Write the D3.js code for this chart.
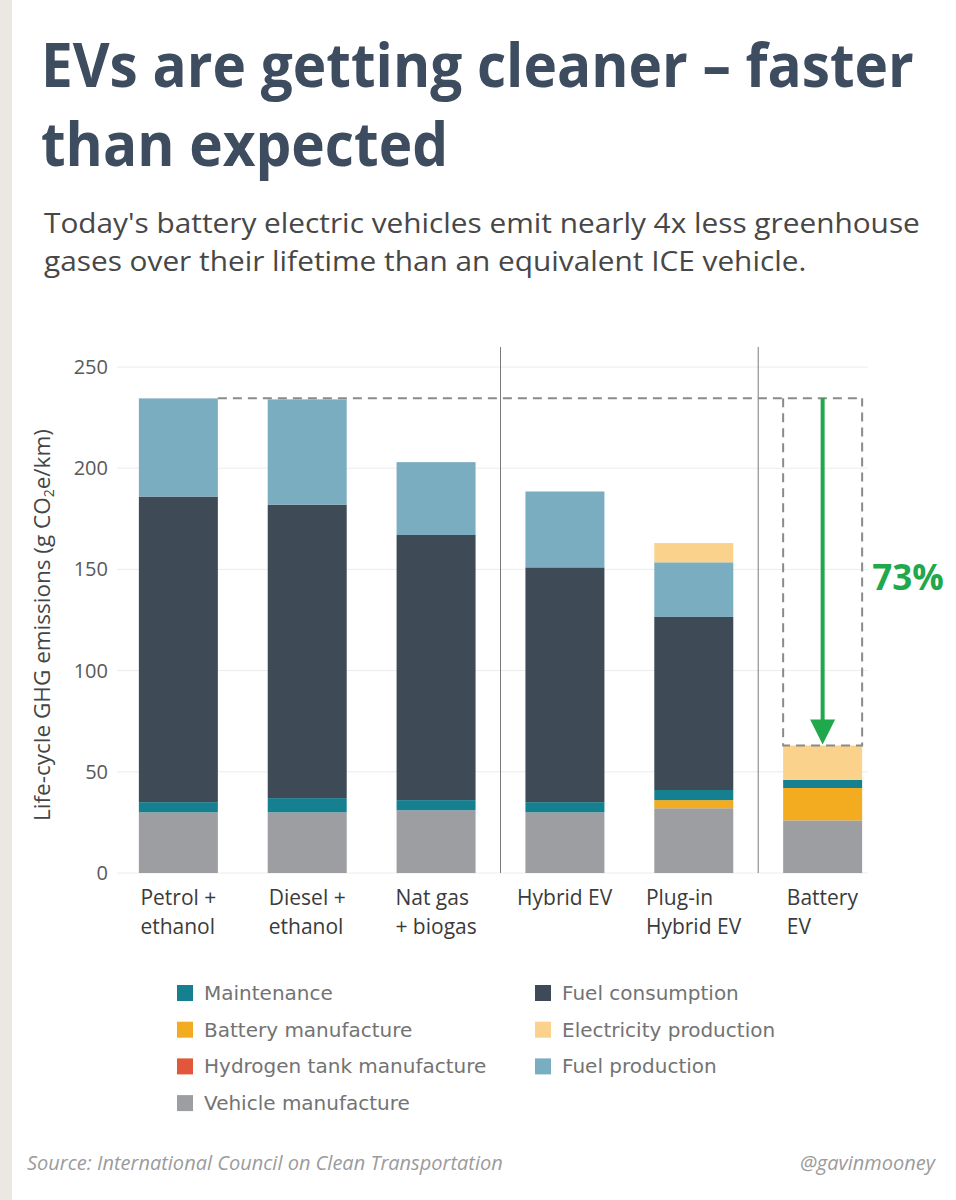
<!DOCTYPE html>
<html>
<head>
<meta charset="utf-8">
<script src="https://cdn.jsdelivr.net/npm/d3@7.9.0/dist/d3.min.js"></script>
<style>
  body { margin: 0; background: #fff; }
  svg { display: block; }
</style>
</head>
<body>
<svg id="chart" width="956" height="1200"></svg>
<script>
// Data (g CO2e/km)
const categories = ["Petrol + ethanol", "Diesel + ethanol", "Nat gas + biogas", "Hybrid EV", "Plug-in Hybrid EV", "Battery EV"];
const categoryLines = [["Petrol +", "ethanol"], ["Diesel +", "ethanol"], ["Nat gas", "+ biogas"], ["Hybrid EV"], ["Plug-in", "Hybrid EV"], ["Battery", "EV"]];

const vehicleManufacture = [30, 30, 31, 30, 32, 26];
const hydrogenTankManufacture = [0, 0, 0, 0, 0, 0];
const batteryManufacture = [0, 0, 0, 0, 4, 16];
const maintenance = [5, 7, 5, 5, 5, 4];
const fuelConsumption = [151, 145, 131, 116, 85.5, 0];
const fuelProduction = [48.5, 52, 36, 37.5, 27, 0];
const electricityProduction = [0, 0, 0, 0, 9.5, 17];

const yTicks = [0, 50, 100, 150, 200, 250];

// stack order, bottom to top
const seriesKeys = ["Vehicle manufacture", "Hydrogen tank manufacture", "Battery manufacture", "Maintenance", "Fuel consumption", "Fuel production", "Electricity production"];
const seriesValues = [vehicleManufacture, hydrogenTankManufacture, batteryManufacture, maintenance, fuelConsumption, fuelProduction, electricityProduction];
const seriesColors = ["#9d9ea2", "#e2573b", "#f3ab1f", "#15808f", "#3e4a56", "#7badc1", "#fad28b"];

const legendCol1 = ["Maintenance", "Battery manufacture", "Hydrogen tank manufacture", "Vehicle manufacture"];
const legendCol2 = ["Fuel consumption", "Electricity production", "Fuel production"];

const color = d3.scaleOrdinal().domain(seriesKeys).range(seriesColors);

const rows = categories.map((c, i) => {
  const r = { category: c };
  seriesKeys.forEach((k, j) => (r[k] = seriesValues[j][i]));
  return r;
});
const totals = rows.map((r) => d3.sum(seriesKeys, (k) => r[k]));

const svg = d3.select("#chart");

// left beige strip
svg.append("rect").attr("x", 0).attr("y", 0).attr("width", 12).attr("height", 1200).attr("fill", "#ebe8e1");

// Title + subtitle (narrowed to match the original's condensed face)
function fittedLines(lines, x, baselines, width, size, weight, fill) {
  const g = svg.append("g");
  const texts = lines.map((t, i) =>
    g.append("text")
      .attr("x", 0)
      .attr("y", baselines[i])
      .attr("font-family", "'Open Sans', sans-serif")
      .attr("font-size", size)
      .attr("font-weight", weight)
      .attr("fill", fill)
      .text(t)
  );
  const w = texts[0].node().getComputedTextLength();
  g.attr("transform", `translate(${x},0) scale(${width / w},1)`);
}
fittedLines(["EVs are getting cleaner \u2013 faster", "than expected"], 41, [87, 166], 873, 61, 700, "#3e4c5f");
fittedLines(["Today's battery electric vehicles emit nearly 4x less greenhouse", "gases over their lifetime than an equivalent ICE vehicle."], 44, [233, 271], 876, 28, 400, "#474747");

// Scales
const x = d3.scaleBand().domain(categories).range([89, 912]).paddingInner(0.387).paddingOuter(0.387);
const y = d3.scaleLinear().domain([0, 250]).range([873, 367]);

// gridlines
svg.append("g")
  .selectAll("line")
  .data(yTicks)
  .join("line")
  .attr("x1", 117)
  .attr("x2", 868)
  .attr("y1", (d) => y(d))
  .attr("y2", (d) => y(d))
  .attr("stroke", "#ececec")
  .attr("stroke-width", 1);

// y axis
const yAxis = svg.append("g")
  .attr("transform", "translate(108,0)")
  .call(d3.axisLeft(y).tickValues(yTicks).tickSize(0).tickPadding(0));
yAxis.select(".domain").remove();
yAxis.selectAll("text")
  .attr("font-family", "'Open Sans', sans-serif")
  .attr("font-size", 20)
  .attr("fill", "#595959");

// y axis title
const yTitle = svg.append("text")
  .attr("transform", "translate(50,625) rotate(-90)")
  .attr("text-anchor", "middle")
  .attr("font-family", "'Open Sans', sans-serif")
  .attr("font-size", 22.5)
  .attr("fill", "#454545");
yTitle.append("tspan").text("Life-cycle GHG emissions (g CO");
yTitle.append("tspan").attr("font-size", 14).attr("dy", 4).text("2");
yTitle.append("tspan").attr("dy", -4).text("e/km)");

// group separators
const sepAfter = [2, 4];
svg.append("g")
  .selectAll("line")
  .data(sepAfter)
  .join("line")
  .attr("x1", (i) => (x(categories[i]) + x.bandwidth() + x(categories[i + 1])) / 2)
  .attr("x2", (i) => (x(categories[i]) + x.bandwidth() + x(categories[i + 1])) / 2)
  .attr("y1", 347)
  .attr("y2", y(0))
  .attr("stroke", "#7a7a7a")
  .attr("stroke-width", 1);

// stacked bars
const stacked = d3.stack().keys(seriesKeys)(rows);
svg.append("g")
  .selectAll("g")
  .data(stacked)
  .join("g")
  .attr("fill", (d) => color(d.key))
  .selectAll("rect")
  .data((d) => d)
  .join("rect")
  .attr("x", (d) => x(d.data.category))
  .attr("width", x.bandwidth())
  .attr("y", (d) => y(d[1]))
  .attr("height", (d) => y(d[0]) - y(d[1]));

// x labels: lines left-aligned in a block centred on the bar
categories.forEach((c, i) => {
  const t = svg.append("text")
    .attr("font-family", "'Open Sans', sans-serif")
    .attr("font-size", 21)
    .attr("fill", "#3b3b3b");
  categoryLines[i].forEach((line, j) => {
    t.append("tspan").attr("x", 0).attr("y", 905 + j * 29).text(line);
  });
  const bw = t.node().getBBox().width;
  t.attr("transform", `translate(${x(c) + x.bandwidth() / 2 - bw / 2},0)`);
});

// reference dashed line from the petrol bar top to the BEV bar
const ref = totals[0];
const bev = totals[totals.length - 1];
const bevCat = categories[categories.length - 1];
const bx0 = x(bevCat), bx1 = x(bevCat) + x.bandwidth();
const dash = { stroke: "#8a8a8a", "stroke-width": 2, "stroke-dasharray": "9,6", fill: "none" };
function dashed(pathD) {
  const p = svg.append("path").attr("d", pathD);
  Object.entries(dash).forEach(([k, v]) => p.attr(k, v));
}
dashed(`M${x(categories[0]) + x.bandwidth()},${y(ref)}H${bx1}`);
dashed(`M${bx0},${y(ref)}V${y(bev)}H${bx1}V${y(ref)}`);

// green arrow
const ax = bx0 + x.bandwidth() / 2;
const green = "#1fa84c";
svg.append("line")
  .attr("x1", ax).attr("x2", ax)
  .attr("y1", y(ref)).attr("y2", y(bev) - 20)
  .attr("stroke", green).attr("stroke-width", 4);
svg.append("path")
  .attr("d", `M${ax - 12.5},${y(bev) - 26}L${ax + 12.5},${y(bev) - 26}L${ax},${y(bev) - 1}Z`)
  .attr("fill", green);
svg.append("text")
  .attr("x", bx1 + 10)
  .attr("y", 590)
  .attr("font-family", "'Open Sans', sans-serif")
  .attr("font-size", 35)
  .attr("font-weight", 700)
  .attr("fill", green)
  .text(d3.format(".0%")(1 - bev / ref));

// legend
function legendColumn(items, lx) {
  const g = svg.append("g")
    .selectAll("g")
    .data(items)
    .join("g")
    .attr("transform", (d, i) => `translate(${lx},${993 + i * 36.7})`);
  g.append("rect")
    .attr("x", 0).attr("y", -8)
    .attr("width", 16).attr("height", 16)
    .attr("fill", (d) => color(d));
  g.append("text")
    .attr("x", 27).attr("y", 7)
    .attr("font-family", "'DejaVu Sans', sans-serif")
    .attr("font-size", 20)
    .attr("fill", "#737373")
    .text((d) => d);
}
legendColumn(legendCol1, 177);
legendColumn(legendCol2, 535);

// footer
const footerFont = { "font-family": "'Open Sans', sans-serif", "font-style": "italic", "font-size": 20, fill: "#9b9b9b" };
const src = svg.append("text").attr("x", 27).attr("y", 1170)
  .text("Source: International Council on Clean Transportation");
const handle = svg.append("text").attr("x", 935).attr("y", 1170).attr("text-anchor", "end")
  .text("@gavinmooney");
[src, handle].forEach((t) => Object.entries(footerFont).forEach(([k, v]) => t.attr(k, v)));
</script>
</body>
</html>
